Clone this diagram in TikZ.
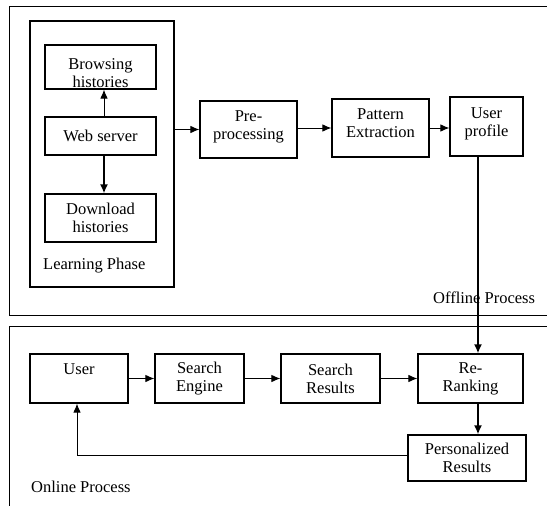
\documentclass[tikz,border=0pt]{standalone}
\usepackage{fontspec}
\setmainfont{Liberation Serif}
\usepackage{tikz}
\usetikzlibrary{positioning}
\usetikzlibrary{arrows.meta}

\newcommand\figfont{\fontsize{16.5}{18}\selectfont}

\begin{document}
\begin{tikzpicture}[x=1pt,y=-1pt]

\tikzset{box/.style={
		draw, rectangle,
		line width=1.1pt,
		align=center,
		inner sep=0pt,
		font=\figfont
	},
	raised/.style={text depth=9pt},
	lbl/.style={font=\figfont, anchor=west, inner sep=0pt},
	thinarrow/.style={line width=1pt, -{Latex[length=9pt,width=7.5pt]}},
	thickarrow/.style={line width=1.8pt, -{Latex[length=9pt,width=8pt]}}
}
\useasboundingbox (0,0) rectangle (547,506);
\clip (0,0) rectangle (547,506);

% frames of the two processes
\draw[line width=1pt] (9,6) rectangle (560,315);
\draw[line width=1pt] (9,326) rectangle (560,520);

% learning phase
\node[draw, line width=1.1pt, minimum width=144, minimum height=266] (learn) at (102,154) {};
\node[box, minimum width=111, minimum height=44,
	path picture={\node[font=\figfont, align=center, inner sep=0pt]
		at ([yshift=-6pt]path picture bounding box.center) {Browsing\\histories};}] (browse) at (100.5,67) {};
\node[box, minimum width=111, minimum height=38] (web) at (100.5,136) {Web server};
\node[box, minimum width=111, minimum height=48] (down) at (100.5,218) {Download\\histories};
\node[lbl] (learnlbl) at (43,266) {Learning Phase};

% offline chain
\node[box, raised, minimum width=97, minimum height=57] (pre) at (248.5,129.5) {Pre-\\processing};
\node[box, raised, minimum width=97, minimum height=58] (pattern) at (380.5,128) {Pattern\\Extraction};
\node[box, raised, minimum width=73, minimum height=59] (profile) at (486.5,126.5) {User\\profile};
\node[lbl] (offlbl) at (433,298) {Offline Process};

% online chain
\node[box, minimum width=98, minimum height=49] (user) at (79,378.5) {User\\{}};
\node[box, minimum width=89, minimum height=49] (engine) at (199.5,378.5) {Search\\Engine};
\node[box, minimum width=99, minimum height=49] (results) at (330.5,378.5) {Search\\Results};
\node[box, minimum width=105, minimum height=49] (rerank) at (470.5,378.5) {Re-\\Ranking};
\node[box, minimum width=118, minimum height=46] (personal) at (467,458) {Personalized\\Results};
\node[lbl] (onlbl) at (31,487) {Online Process};

\coordinate (drop) at (478,0);
\coordinate (back) at (77,0);

% connectors
\draw[thinarrow] ([xshift=3.5pt]web.north) -- ([xshift=3.5pt]browse.south);
\draw[thickarrow] ([xshift=3.5pt]web.south) -- ([xshift=3.5pt]down.north);
\draw[thinarrow] (learn.east |- pre.west) -- (pre.west);
\draw[thinarrow] (pre.east |- pattern.west) -- (pattern.west);
\draw[thinarrow] (pattern.east) -- (pattern.east -| profile.west);
\draw[thickarrow] (profile.south -| drop) -- (rerank.north -| drop);
\draw[thinarrow] (user.east) -- (engine.west);
\draw[thinarrow] (engine.east) -- (results.west);
\draw[thinarrow] (results.east) -- (rerank.west);
\draw[thickarrow] (rerank.south -| drop) -- (personal.north -| drop);
\draw[thinarrow] ([yshift=3pt]personal.west) -- ([yshift=3pt]personal.west -| back) -- (user.south -| back);

\end{tikzpicture}
\end{document}
